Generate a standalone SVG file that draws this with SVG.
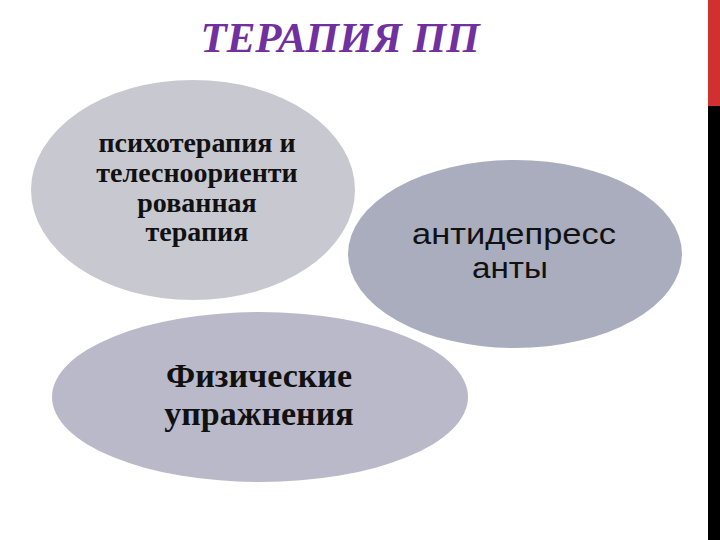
<svg xmlns="http://www.w3.org/2000/svg" width="720" height="540" viewBox="0 0 720 540">
<style>
.serif{font-family:"Liberation Serif","DejaVu Serif",serif;font-weight:bold;fill:#111;text-anchor:middle}
.sans{font-family:"Liberation Sans","DejaVu Sans",sans-serif;fill:#111;text-anchor:middle}
</style>
<rect width="720" height="540" fill="#ffffff"/>
<rect x="708" y="0" width="12" height="106" fill="#d03030"/>
<rect x="708" y="106" width="12" height="434" fill="#000000"/>
<text x="340" y="52" font-family="Liberation Serif, serif" font-weight="bold" font-style="italic" font-size="43" fill="#7030a0" text-anchor="middle">ТЕРАПИЯ ПП</text>
<g id="node-psycho">
<ellipse cx="193" cy="190" rx="162" ry="110" fill="#c8c8d0"/>
<text class="serif" font-size="28"><tspan x="197" y="152">психотерапия и</tspan><tspan x="197" y="182">телесноориенти</tspan><tspan x="197" y="212">рованная</tspan><tspan x="197" y="241">терапия</tspan></text>
</g>
<g id="node-antidep">
<ellipse cx="515" cy="254" rx="167" ry="94" fill="#a9adbd"/>
<text class="sans" font-size="29" x="514" y="244" textLength="204" lengthAdjust="spacingAndGlyphs">антидепресс</text>
<text class="sans" font-size="29" x="510" y="278" textLength="76" lengthAdjust="spacingAndGlyphs">анты</text>
</g>
<g id="node-phys">
<ellipse cx="260" cy="397" rx="208" ry="85" fill="#b9b9c9"/>
<text class="serif" font-size="34"><tspan x="259" y="387">Физические</tspan><tspan x="259" y="425">упражнения</tspan></text>
</g>
<g id="connectors"></g>
</svg>
